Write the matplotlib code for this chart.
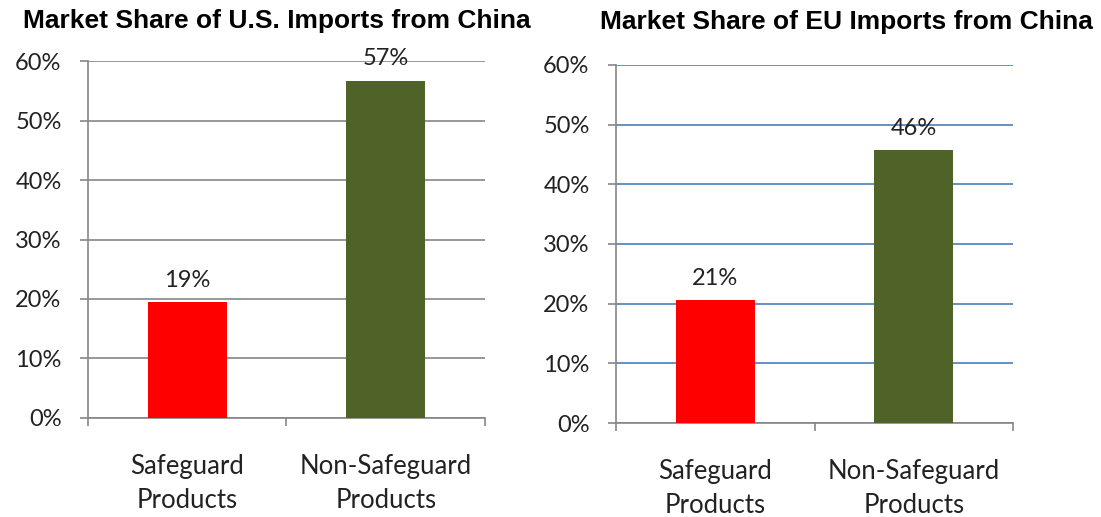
import matplotlib
matplotlib.use('Agg')
import matplotlib.pyplot as plt
import numpy as np

plt.rcParams['font.family'] = ['Lato', 'DejaVu Sans']

categories = ['Safeguard\nProducts', 'Non-Safeguard\nProducts']
us_share = [0.195, 0.567]
eu_share = [0.206, 0.457]
us_labels = ['19%', '57%']
eu_labels = ['21%', '46%']
bar_colors = ['#ff0000', '#4f6228']
yticks = [0, 0.1, 0.2, 0.3, 0.4, 0.5, 0.6]
ytick_labels = ['0%', '10%', '20%', '30%', '40%', '50%', '60%']

fig = plt.figure(figsize=(11.01, 5.17), dpi=100)

def draw(ax, values, labels, grid_color):
    x = np.arange(len(categories))
    bars = ax.bar(x, values, 0.4, color=bar_colors, zorder=3)
    ax.set_xlim(-0.5, len(categories) - 0.5)
    ax.set_ylim(0, 0.6)
    ax.set_yticks(yticks)
    ax.set_yticklabels(ytick_labels, fontsize=17, color='#222222')
    # category boundaries as major ticks, labels on minor ticks
    ax.set_xticks(np.arange(len(categories) + 1) - 0.5)
    ax.set_xticklabels([])
    ax.set_xticks(x, minor=True)
    ax.set_xticklabels(categories, minor=True, fontsize=18.5, color='#222222', linespacing=1.45)
    ax.tick_params(axis='x', which='minor', length=0, pad=26)
    ax.tick_params(axis='x', which='major', length=6, color='#868686', width=1.2)
    ax.tick_params(axis='y', length=6, color='#868686', width=1.2, pad=13)
    for s in ['top', 'right']:
        ax.spines[s].set_visible(False)
    for s in ['left', 'bottom']:
        ax.spines[s].set_color('#868686')
        ax.spines[s].set_linewidth(1.2)
    ax.grid(axis='y', color=grid_color, linewidth=1.2, zorder=0)
    ax.set_axisbelow(True)
    for rect, lab in zip(bars, labels):
        ax.annotate(lab, (rect.get_x() + rect.get_width() / 2, rect.get_height()),
                    xytext=(0, 11), textcoords='offset points', ha='center', va='baseline',
                    fontsize=17, color='#222222', zorder=1)

ax1 = fig.add_axes([0.0799, 0.1915, 0.3606, 0.6905])
draw(ax1, us_share, us_labels, '#868686')
ax2 = fig.add_axes([0.5595, 0.1818, 0.3606, 0.6925])
draw(ax2, eu_share, eu_labels, '#4a7ebb')

fig.text(0.2516, 0.959, 'Market Share of U.S. Imports from China', ha='center', va='center',
         fontsize=19, fontweight='bold', family='Liberation Sans')
fig.text(0.769, 0.957, 'Market Share of EU Imports from China', ha='center', va='center',
         fontsize=19, fontweight='bold', family='Liberation Sans')

plt.savefig('out.png', dpi=100)
